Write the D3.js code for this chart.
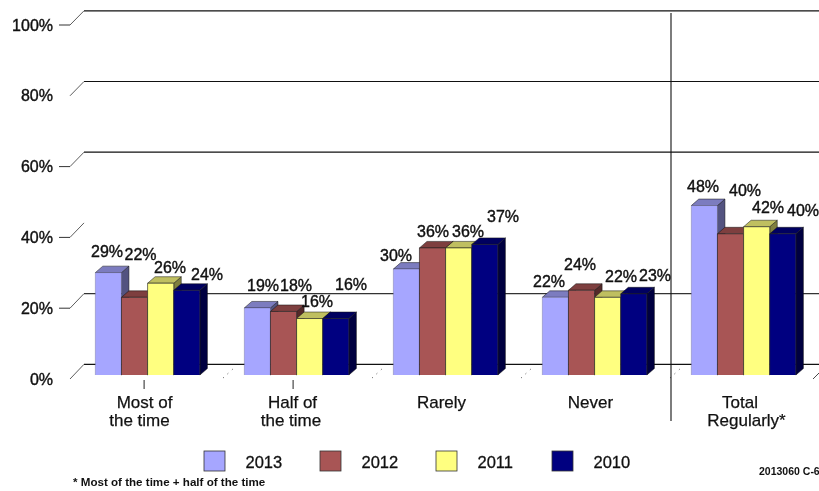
<!DOCTYPE html>
<html><head><meta charset="utf-8">
<script src="https://cdnjs.cloudflare.com/ajax/libs/d3/7.8.5/d3.min.js"></script>
<style>html,body{margin:0;background:#fff}svg{display:block;filter:blur(.45px)}text{font-family:"Liberation Sans",Arial,sans-serif;fill:#111}</style>
</head><body><svg id="c" width="819" height="491"></svg>
<script>
const categories=[["Most of","the time"],["Half of","the time"],["Rarely"],["Never"],["Total","Regularly*"]];
const years=["2013","2012","2011","2010"];
const v2013=[29,19,30,22,48];
const v2012=[22,18,36,24,40];
const v2011=[26,16,36,22,42];
const v2010=[24,16,37,23,40];
const series=[v2013,v2012,v2011,v2010];
const yTicks=[0,20,40,60,80,100];
const gridTicks=[0,20,60,80,100];
const colors=["#A6A6FF","#A85555","#FFFF80","#000080"];
const topColors=["#7C7CBF","#7E3F3F","#BFBF60","#000060"];
const sideColors=["#535380","#542A2A","#80803F","#000040"];
const labelCenters=[[107,140.5,170,207],[263,296,317,351],[396,433,468,503],[549,580,621,655],[703,745,768,803]];
const labelMids=[[251,254,267,274],[285,285,301,284],[255,231,231,216],[281,264,276,275],[186,190,207,210]];
const catLineCenters=[[144.5,139.5],[292.5,291],[441.5],[590.5],[740,746.5]];

const svg=d3.select("#c");
const idx=categories.map((_,i)=>i);
const x0=d3.scaleBand().domain(idx).range([73.1,818.1]);
const x1=d3.scaleBand().domain(d3.range(4)).range([22.2,126.8]);
const yBar=d3.scaleLinear().domain([0,100]).range([375,22]);
const yBack=d3.scaleLinear().domain([0,100]).range([364.3,10.8]);
const yFront=d3.scaleLinear().domain([0,100]).range([379,25]);
const dx=7.5,dy=6.5;

svg.append("g").selectAll("line").data(gridTicks).join("line")
 .attr("x1",84).attr("x2",819).attr("y1",d=>yBack(d)).attr("y2",d=>yBack(d))
 .attr("stroke",d=>d==20?"#333":"#111").attr("stroke-width",1.2);
svg.append("g").selectAll("line").data(yTicks).join("line")
 .attr("x1",70).attr("x2",84).attr("y1",d=>yFront(d)).attr("y2",d=>yBack(d))
 .attr("stroke","#333").attr("stroke-width",.8);
svg.append("g").selectAll("line").data([20,40,60,100]).join("line")
 .attr("x1",59).attr("x2",70).attr("y1",d=>yFront(d)).attr("y2",d=>yFront(d))
 .attr("stroke","#333").attr("stroke-width",1);
svg.append("g").selectAll("text").data(yTicks).join("text")
 .attr("x",53).attr("y",d=>yFront(d)+5.5).attr("text-anchor","end")
 .attr("font-size",16).attr("stroke","#111").attr("stroke-width",.4).text(d=>d+"%");

// sparse dotted floor segments between groups
svg.append("g").selectAll("line").data(idx.slice(0,4)).join("line")
 .attr("x1",i=>x0(i)+x0.step()+1).attr("x2",i=>x0(i)+x0.step()+14)
 .attr("y1",378).attr("y2",366)
 .attr("stroke","#444").attr("stroke-width",1).attr("stroke-dasharray","1 5");
svg.append("line").attr("x1",813).attr("x2",819).attr("y1",379).attr("y2",373).attr("stroke","#333").attr("stroke-width",.9);

// vertical divider
svg.append("line").attr("x1",671).attr("x2",671).attr("y1",13).attr("y2",421).attr("stroke","#111").attr("stroke-width",1.1);

const groups=svg.append("g").selectAll("g").data(idx).join("g").attr("transform",i=>`translate(${x0(i)},0)`);
years.forEach((_,s)=>{
 const xa=x1(s),w=x1.bandwidth();
 const bar=groups.append("g");
 const top=i=>yBar(series[s][i]);
 bar.append("path").attr("fill",sideColors[s]).attr("stroke","#111").attr("stroke-width",.5)
  .attr("d",i=>`M${xa+w},${top(i)}l${dx},${-dy}V${yBar(0)-dy}l${-dx},${dy}Z`);
 bar.append("path").attr("fill",topColors[s]).attr("stroke","#111").attr("stroke-width",.5)
  .attr("d",i=>`M${xa},${top(i)}l${dx},${-dy}h${w}l${-dx},${dy}Z`);
 bar.append("rect").attr("x",xa).attr("width",w).attr("y",top).attr("height",i=>yBar(0)-top(i)).attr("fill",colors[s]);
 bar.append("path").attr("fill","none").attr("stroke","#222").attr("stroke-width",.8)
  .attr("d",i=>`M${xa},${yBar(0)}V${top(i)}h${w}V${yBar(0)}`).attr("stroke-opacity",s==0?.25:.8);
});
// data labels
years.forEach((_,s)=>{
 svg.append("g").selectAll("text").data(idx).join("text")
  .attr("x",i=>labelCenters[i][s]).attr("y",i=>labelMids[i][s]+5.5).attr("text-anchor","middle")
  .attr("font-size",16).attr("stroke","#111").attr("stroke-width",.4)
  .text(i=>series[s][i]+"%");
});
// category ticks
svg.append("g").selectAll("line").data([0,1]).join("line")
 .attr("x1",i=>x0(i)+x0.bandwidth()/2-3.5).attr("x2",i=>x0(i)+x0.bandwidth()/2-3.5)
 .attr("y1",380).attr("y2",389).attr("stroke","#222");
// category labels
svg.append("g").selectAll("text").data(idx).join("text")
 .attr("text-anchor","middle").attr("font-size",17).attr("stroke","#111").attr("stroke-width",.25)
 .each(function(i){
  d3.select(this).selectAll("tspan").data(categories[i]).join("tspan")
   .attr("x",(d,k)=>catLineCenters[i][k]).attr("y",(d,k)=>408+k*18).text(d=>d);
 });
// legend
const lx=d3.scaleBand().domain(years).range([204,668]);
const lg=svg.append("g").selectAll("g").data(years).join("g").attr("transform",d=>`translate(${lx(d)},451)`);
lg.append("rect").attr("width",21).attr("height",20).attr("fill",(d,i)=>colors[i]).attr("stroke","#333").attr("stroke-width",.8);
lg.append("text").attr("x",41.5).attr("y",17).attr("font-size",16.5).attr("stroke","#111").attr("stroke-width",.3).text(d=>d);
// notes
svg.append("text").attr("x",73).attr("y",486).attr("font-size",11.6).attr("font-weight","bold").text("* Most of the time + half of the time");
svg.append("text").attr("x",759).attr("y",475).attr("font-size",10.5).attr("font-weight","bold").text("2013060 C-6");
</script></body></html>
